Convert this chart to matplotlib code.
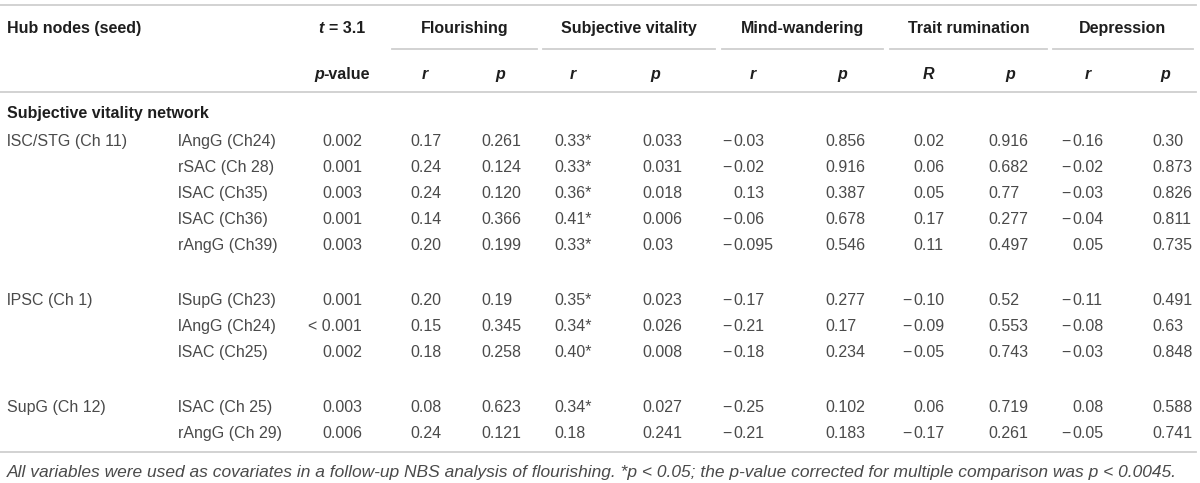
import matplotlib
matplotlib.use('Agg')
import matplotlib.pyplot as plt

# Table content
hub_nodes = ['lSC/STG (Ch 11)', '', '', '', '',
             'lPSC (Ch 1)', '', '',
             'SupG (Ch 12)', '']
targets = ['lAngG (Ch24)', 'rSAC (Ch 28)', 'lSAC (Ch35)', 'lSAC (Ch36)', 'rAngG (Ch39)',
           'lSupG (Ch23)', 'lAngG (Ch24)', 'lSAC (Ch25)',
           'lSAC (Ch 25)', 'rAngG (Ch 29)']
group_sizes = [5, 3, 2]
t_pvalues = ['0.002', '0.001', '0.003', '0.001', '0.003', '0.001', '< 0.001', '0.002', '0.003', '0.006']
flourishing_r = ['0.17', '0.24', '0.24', '0.14', '0.20', '0.20', '0.15', '0.18', '0.08', '0.24']
flourishing_p = ['0.261', '0.124', '0.120', '0.366', '0.199', '0.19', '0.345', '0.258', '0.623', '0.121']
vitality_r = ['0.33*', '0.33*', '0.36*', '0.41*', '0.33*', '0.35*', '0.34*', '0.40*', '0.34*', '0.18']
vitality_p = ['0.033', '0.031', '0.018', '0.006', '0.03', '0.023', '0.026', '0.008', '0.027', '0.241']
mw_r = ['-0.03', '-0.02', '0.13', '-0.06', '-0.095', '-0.17', '-0.21', '-0.18', '-0.25', '-0.21']
mw_p = ['0.856', '0.916', '0.387', '0.678', '0.546', '0.277', '0.17', '0.234', '0.102', '0.183']
rum_r = ['0.02', '0.06', '0.05', '0.17', '0.11', '-0.10', '-0.09', '-0.05', '0.06', '-0.17']
rum_p = ['0.916', '0.682', '0.77', '0.277', '0.497', '0.52', '0.553', '0.743', '0.719', '0.261']
dep_r = ['-0.16', '-0.02', '-0.03', '-0.04', '0.05', '-0.11', '-0.08', '-0.03', '0.08', '-0.05']
dep_p = ['0.30', '0.873', '0.826', '0.811', '0.735', '0.491', '0.63', '0.848', '0.588', '0.741']

groups = ['Flourishing', 'Subjective vitality', 'Mind-wandering', 'Trait rumination', 'Depression']
sub_labels = ['r', 'p', 'r', 'p', 'r', 'p', 'R', 'p', 'r', 'p']
section_title = 'Subjective vitality network'
footnote = ('All variables were used as covariates in a follow-up NBS analysis of flourishing. '
            '*p < 0.05; the p-value corrected for multiple comparison was p < 0.0045.')

value_cols = [flourishing_r, flourishing_p, vitality_r, vitality_p, mw_r, mw_p,
              rum_r, rum_p, dep_r, dep_p]

# layout (pixel coordinates)
col_x = [410, 481, 554, 642, 733, 825, 913, 988, 1072, 1152]
sub_x = [425, 500, 573, 655, 753, 842, 928, 1010, 1088, 1165]
group_spans = [(392, 537), (543, 715), (722, 883), (890, 1047), (1053, 1193)]
font = 'Liberation Sans'
fs = 11.5
body_col = '#4a4a4a'
head_col = '#1e1e1e'
line_col = '#cfcfcf'

fig = plt.figure(figsize=(12, 4.83), dpi=100)
ax = fig.add_axes([0, 0, 1, 1])
ax.set_xlim(0, 1200)
ax.set_ylim(483, 0)
ax.axis('off')
renderer = fig.canvas.get_renderer()

base = 0.36 * fs * 100 / 72  # center -> baseline offset


def rich(x, y, parts, ha='left', size=fs):
    # draw several styled pieces one after the other
    items = []
    for s, kw in parts:
        t = ax.text(0, y + base, s, fontsize=size, va='baseline', **kw)
        items.append(t)
    widths = [t.get_window_extent(renderer).width for t in items]
    total = sum(widths)
    if ha == 'center':
        start = x - total / 2
    elif ha == 'right':
        start = x - total
    else:
        start = x
    for t, w in zip(items, widths):
        t.set_x(start)
        start += w


bold = dict(family=font, weight='bold', color=head_col)
bold_it = dict(family=font, weight='bold', style='italic', color=head_col)
body = dict(family=font, weight='normal', color=body_col)

# rules
ax.plot([0, 1196], [5, 5], color=line_col, lw=1.3)
ax.plot([0, 1196], [92, 92], color=line_col, lw=1.3)
ax.plot([0, 1196], [452, 452], color=line_col, lw=1.3)
for x0, x1 in group_spans:
    ax.plot([x0, x1], [49, 49], color=line_col, lw=1.3)

# header row 1
rich(7, 27, [('Hub nodes (seed)', bold)])
rich(342, 27, [('t ', bold_it), ('= 3.1', bold)], ha='center')
for g, (x0, x1) in zip(groups, group_spans):
    rich((x0 + x1) / 2, 27, [(g, bold)], ha='center')

# header row 2
rich(342, 73, [('p', bold_it), ('-value', bold)], ha='center')
for s, x in zip(sub_labels, sub_x):
    rich(x, 73, [(s, bold_it)], ha='center')

rich(7, 112, [(section_title, bold)])

# body rows
row_y = []
y = 140
for gi, n in enumerate(group_sizes):
    for k in range(n):
        row_y.append(y)
        y += 26
    y += 29

for i, y in enumerate(row_y):
    if hub_nodes[i]:
        ax.text(7, y + base, hub_nodes[i], fontsize=fs, va='baseline', **body)
    ax.text(178, y + base, targets[i], fontsize=fs, va='baseline', **body)
    ax.text(362, y + base, t_pvalues[i], fontsize=fs, va='baseline', ha='right', **body)
    for vals, x in zip(value_cols, col_x):
        v = vals[i]
        if v.startswith('-'):
            ax.text(x - 1.5, y + base, '\u2212', fontsize=fs, va='baseline', ha='right', **body)
            v = v[1:]
        ax.text(x, y + base, v, fontsize=fs, va='baseline', **body)

# footnote, scaled to span the table width
fn = ax.text(7, 471 + base, footnote, fontsize=10.5, va='baseline',
             family=font, style='italic', color=body_col)
w = fn.get_window_extent(renderer).width
fn.set_fontsize(10.5 * 1178 / w)

fig.savefig('out.png', dpi=100)
